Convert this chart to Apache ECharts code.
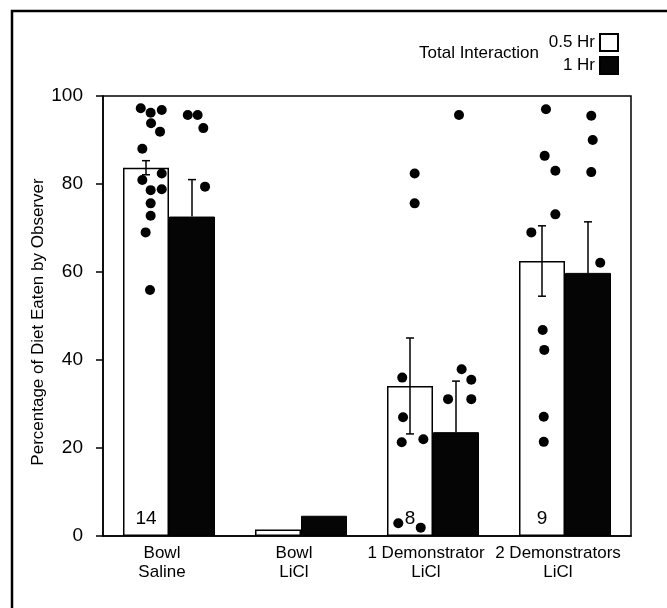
<!DOCTYPE html>
<html>
<head>
<meta charset="utf-8">
<script src="https://cdn.jsdelivr.net/npm/echarts@6/dist/echarts.min.js"></script>
<style>
html, body { margin: 0; padding: 0; background: #fff; }
#chart { width: 667px; height: 608px; }
</style>
</head>
<body>
<div id="chart"></div>
<script>
// groups on the x axis
const groups = ['Bowl\nSaline', 'Bowl\nLiCl', '1 Demonstrator\nLiCl', '2 Demonstrators\nLiCl'];

// group means and standard errors (% of diet eaten)
const halfHrMean = [83.7, 1.5, 34.1, 62.5];
const halfHrErr = [1.6, 0, 10.9, 8.0];
const oneHrMean = [72.6, 4.6, 23.6, 59.8];
const oneHrErr = [8.4, 0, 11.6, 11.6];
const nLabels = ['14', '', '8', '9'];

// individual observers: [group index + jitter, percent]
const halfHrDots = [
    [-0.214, 97.2], [-0.139, 96.2], [-0.055, 96.8], [-0.136, 93.8], [-0.068, 91.9],
    [-0.202, 88.0], [-0.055, 82.4], [-0.202, 80.9], [-0.139, 78.6], [-0.055, 78.8],
    [-0.139, 75.6], [-0.139, 72.8], [-0.177, 69.0], [-0.144, 55.9],
    [1.767, 36.0], [1.773, 27.0], [1.763, 21.3], [1.927, 22.0], [1.737, 2.9],
    [1.907, 1.9], [1.861, 82.4], [1.861, 75.6],
    [2.856, 97.0], [2.846, 86.4], [2.927, 83.0], [2.927, 73.1], [2.745, 69.0],
    [2.831, 46.8], [2.843, 42.3], [2.839, 27.1], [2.839, 21.4]
];
const oneHrDots = [
    [0.142, 95.7], [0.217, 95.7], [0.26, 92.7], [0.273, 79.4],
    [2.217, 37.9], [2.29, 35.5], [2.114, 31.1], [2.29, 31.1], [2.197, 95.7],
    [3.199, 95.5], [3.21, 90.0], [3.199, 82.7], [3.267, 62.1]
];

const font = "'Liberation Sans Narrow', 'Arial Narrow', 'Liberation Sans', sans-serif";
const barW = 46;

const chart = echarts.init(document.getElementById('chart'));

// lower half only shows on the white bars, on black bars it disappears
function errorBars(shift, withLower) {
    return function (params, api) {
        const i = api.value(0), m = api.value(1), e = api.value(2);
        if (!e) return null;
        const top = api.coord([i, m + e]);
        const mid = api.coord([i, m]);
        const bot = api.coord([i, m - e]);
        const x = top[0] + shift;
        const style = { stroke: '#000', lineWidth: 1.5 };
        const parts = [
            { type: 'line', shape: { x1: x, y1: top[1], x2: x, y2: withLower ? bot[1] : mid[1] }, style: style },
            { type: 'line', shape: { x1: x - 4, y1: top[1], x2: x + 4, y2: top[1] }, style: style }
        ];
        if (withLower) {
            parts.push({ type: 'line', shape: { x1: x - 4, y1: bot[1], x2: x + 4, y2: bot[1] }, style: style });
        }
        return { type: 'group', children: parts };
    };
}

const option = {
    animation: false,
    backgroundColor: '#fff',
    textStyle: { fontFamily: font, color: '#000' },
    grid: {
        left: 103, right: 36, top: 96, bottom: 72,
        show: true, borderColor: '#000', borderWidth: 1.5
    },
    title: {
        text: 'Total Interaction',
        left: 419, top: 45, padding: 0,
        textStyle: { fontFamily: font, fontSize: 17, fontWeight: 'normal', color: '#000' }
    },
    legend: {
        orient: 'vertical',
        align: 'right',
        right: 43, top: 28,
        icon: 'rect',
        itemWidth: 18, itemHeight: 17, itemGap: 4,
        textStyle: { fontFamily: font, fontSize: 17, color: '#000' },
        data: ['0.5 Hr', '1 Hr']
    },
    graphic: [{
        type: 'polyline',
        shape: { points: [[12, 608], [12, 11], [667, 11]] },
        style: { stroke: '#000', lineWidth: 2.5, fill: null }
    }],
    xAxis: [{
        type: 'category',
        data: groups,
        axisLine: { lineStyle: { color: '#000', width: 1.5 } },
        axisTick: { show: false },
        axisLabel: {
            color: '#000', fontFamily: font, fontSize: 17, lineHeight: 19,
            margin: 8, padding: [0, 14, 0, 0], interval: 0
        }
    }, {
        type: 'value',
        min: -0.5, max: 3.5,
        show: false
    }],
    yAxis: {
        type: 'value',
        min: 0, max: 100, interval: 20,
        name: 'Percentage of Diet Eaten by Observer',
        nameLocation: 'middle',
        nameGap: 56,
        nameMoveOverlap: false,
        nameTextStyle: { fontFamily: font, fontSize: 17, color: '#000', padding: [0, 12, 0, 0] },
        axisLine: { show: true, onZero: false, lineStyle: { color: '#000', width: 1.5 } },
        axisTick: { show: true, inside: false, length: 7, lineStyle: { color: '#000', width: 1.5 } },
        axisLabel: { color: '#000', fontFamily: font, fontSize: 19, margin: 20 },
        splitLine: { show: false }
    },
    series: [{
        name: '0.5 Hr',
        type: 'bar',
        data: halfHrMean,
        barWidth: barW,
        barGap: '0%',
        itemStyle: { color: '#fff', borderColor: '#000', borderWidth: 1.5 },
        label: {
            show: true,
            position: 'insideBottom',
            distance: 8,
            fontFamily: font, fontSize: 19, color: '#000',
            formatter: p => nLabels[p.dataIndex]
        },
        z: 2
    }, {
        name: '1 Hr',
        type: 'bar',
        data: oneHrMean,
        barWidth: barW,
        itemStyle: { color: '#050505', borderColor: '#000', borderWidth: 1 },
        z: 2
    }, {
        type: 'custom',
        renderItem: errorBars(-barW / 2, true),
        data: halfHrMean.map((m, i) => [i, m, halfHrErr[i]]),
        encode: { x: 0, y: 1 },
        z: 4
    }, {
        type: 'custom',
        renderItem: errorBars(barW / 2, false),
        data: oneHrMean.map((m, i) => [i, m, oneHrErr[i]]),
        encode: { x: 0, y: 1 },
        z: 4
    }, {
        type: 'scatter',
        xAxisIndex: 1,
        data: halfHrDots,
        symbolSize: 10,
        itemStyle: { color: '#000', opacity: 1 },
        z: 5
    }, {
        type: 'scatter',
        xAxisIndex: 1,
        data: oneHrDots,
        symbolSize: 10,
        itemStyle: { color: '#000', opacity: 1 },
        z: 5
    }]
};

chart.setOption(option);
</script>
</body>
</html>
